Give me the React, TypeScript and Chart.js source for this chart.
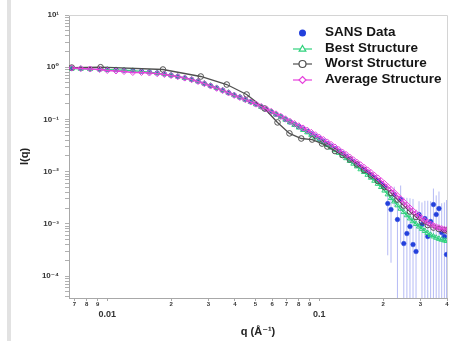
import React, { useEffect, useRef } from 'react';
import { Chart, registerables } from 'chart.js';

Chart.register(...registerables);

// ---- data ----
const qValues = [
  0.0068, 0.0075, 0.0083, 0.0092, 0.0100, 0.0110, 0.0120, 0.0132, 0.0145, 0.0158,
  0.0172, 0.0186, 0.0200, 0.0215, 0.0232, 0.0250, 0.0268, 0.0287, 0.0307, 0.0328,
  0.0350, 0.0373, 0.0397, 0.0422, 0.0448, 0.0475, 0.0503, 0.0532, 0.0562, 0.0593,
  0.0625, 0.0658, 0.0692, 0.0727, 0.0763, 0.0800, 0.0838, 0.0877, 0.0917, 0.0958,
  0.1000, 0.1045, 0.1090, 0.1137, 0.1185, 0.1235, 0.1286, 0.1338, 0.1392, 0.1448,
  0.1505, 0.1564, 0.1625, 0.1688, 0.1752, 0.1818, 0.1886, 0.1956, 0.2028, 0.2102,
  0.2178, 0.2256, 0.2336, 0.2418, 0.2502, 0.2588, 0.2676, 0.2766, 0.2858, 0.2952,
  0.3048, 0.3146, 0.3246, 0.3348, 0.3452, 0.3558, 0.3666, 0.3776, 0.3888, 0.3980,
];

const sansI = [
  0.944, 0.936, 0.924, 0.912, 0.904, 0.892, 0.876, 0.857, 0.835, 0.809,
  0.774, 0.741, 0.703, 0.663, 0.621, 0.581, 0.537, 0.487, 0.442, 0.400,
  0.361, 0.325, 0.292, 0.266, 0.240, 0.218, 0.196, 0.175, 0.157, 0.140,
  0.125, 0.113, 0.100, 0.0892, 0.0799, 0.0725, 0.0655, 0.0592, 0.0532, 0.0479,
  0.0431, 0.0386, 0.0345, 0.0309, 0.0277, 0.0247, 0.0222, 0.0197, 0.0175, 0.0156,
  0.0139, 0.0124, 0.0111, 0.00983, 0.00872, 0.00771, 0.00675, 0.00592, 0.00518, 0.00245,
  0.00188, 0.00364, 0.00121, 0.00292, 0.000419, 0.000652, 0.000888, 0.000401, 0.000295, 0.00151,
  0.000970, 0.00126, 0.000571, 0.00111, 0.00234, 0.00151, 0.00196, 0.000681, 0.000571, 0.000258,
];

const sansErr = [
  0.028, 0.028, 0.028, 0.027, 0.027, 0.027, 0.026, 0.026, 0.025, 0.024,
  0.023, 0.022, 0.021, 0.020, 0.019, 0.017, 0.016, 0.015, 0.013, 0.012,
  0.011, 0.010, 0.009, 0.008, 0.0072, 0.0065, 0.0059, 0.0053, 0.0047, 0.0042,
  0.0038, 0.0034, 0.0030, 0.0027, 0.0024, 0.0022, 0.0020, 0.0018, 0.0016, 0.0015,
  0.0013, 0.0012, 0.0011, 0.0010, 0.0009, 0.0008, 0.0007, 0.0007, 0.0006, 0.0006,
  0.0005, 0.0005, 0.0005, 0.0005, 0.0005, 0.0006, 0.0006, 0.0007, 0.0008, 0.0022,
  0.0017, 0.0015, 0.0018, 0.0025, 0.0028, 0.0025, 0.0022, 0.0026, 0.0016, 0.0012,
  0.0016, 0.0015, 0.0022, 0.0016, 0.0024, 0.0020, 0.0022, 0.0018, 0.0020, 0.0026,
];

const bestI = [
  0.940, 0.932, 0.921, 0.910, 0.900, 0.889, 0.874, 0.855, 0.833, 0.808,
  0.773, 0.740, 0.703, 0.664, 0.622, 0.582, 0.538, 0.489, 0.444, 0.402,
  0.362, 0.326, 0.293, 0.266, 0.240, 0.217, 0.195, 0.174, 0.156, 0.139,
  0.124, 0.111, 0.0990, 0.0880, 0.0785, 0.0700, 0.0629, 0.0566, 0.0507, 0.0454,
  0.0407, 0.0363, 0.0323, 0.0288, 0.0257, 0.0228, 0.0203, 0.0181, 0.0160, 0.0142,
  0.0126, 0.0111, 0.00983, 0.00869, 0.00764, 0.00669, 0.00584, 0.00507, 0.00434, 0.00367,
  0.00312, 0.00268, 0.00226, 0.00195, 0.00168, 0.00146, 0.00127, 0.00112, 0.000991, 0.000888,
  0.000802, 0.000728, 0.000666, 0.000616, 0.000574, 0.000542, 0.000516, 0.000496, 0.000481, 0.000470,
];

const avgI = [
  0.965, 0.944, 0.924, 0.904, 0.865, 0.846, 0.827, 0.792, 0.792, 0.774,
  0.751, 0.725, 0.693, 0.658, 0.618, 0.576, 0.532, 0.483, 0.436, 0.394,
  0.358, 0.322, 0.289, 0.263, 0.238, 0.216, 0.196, 0.177, 0.159, 0.143,
  0.128, 0.115, 0.103, 0.0924, 0.0835, 0.0757, 0.0687, 0.0624, 0.0566, 0.0509,
  0.0458, 0.0412, 0.0371, 0.0332, 0.0297, 0.0265, 0.0237, 0.0213, 0.0190, 0.0169,
  0.0151, 0.0136, 0.0121, 0.0108, 0.00961, 0.00853, 0.00757, 0.00669, 0.00592, 0.00518,
  0.00454, 0.00398, 0.00345, 0.00301, 0.00263, 0.00229, 0.00201, 0.00177, 0.00158, 0.00141,
  0.00127, 0.00116, 0.00107, 0.000991, 0.000928, 0.000880, 0.000842, 0.000813, 0.000788, 0.000771,
];

const worstQ = [
  0.0068, 0.0093, 0.0183, 0.0276, 0.0366, 0.0454, 0.0552, 0.0635, 0.0723, 0.0822,
  0.0925, 0.1030, 0.1090, 0.1185, 0.1286, 0.1392, 0.1505, 0.1625, 0.1752, 0.1886,
  0.2028, 0.2178, 0.2336, 0.2502, 0.2676, 0.2858, 0.3048, 0.3246, 0.3452, 0.3666,
  0.3888, 0.3980,
];
const worstI = [
  0.985, 1.00, 0.904, 0.664, 0.466, 0.300, 0.162, 0.0876, 0.0540, 0.0431,
  0.0412, 0.0345, 0.0303, 0.0248, 0.0208, 0.0171, 0.0137, 0.0107, 0.00842, 0.00661,
  0.00507, 0.00389, 0.00292, 0.00224, 0.00172, 0.00135, 0.00111, 0.000948, 0.000849, 0.000795,
  0.000761, 0.000744,
];

const legendLabels = ['SANS Data', 'Best Structure', 'Worst Structure', 'Average Structure'];
const xTickValues = [0.007, 0.008, 0.009, 0.01, 0.02, 0.03, 0.04, 0.05, 0.06, 0.07, 0.08, 0.09, 0.1, 0.2, 0.3, 0.4];
const xMajorTicks = [0.01, 0.1];
const xMajorLabels = ['0.01', '0.1'];
const xMinorLabels = ['7', '8', '9', '', '2', '3', '4', '5', '6', '7', '8', '9', '', '2', '3', '4'];
const yDecades = [0.0001, 0.001, 0.01, 0.1, 1, 10];
const yMinorFactors = [2, 3, 4, 5, 6, 7, 8, 9];
const yDecadeLabels = ['10⁻⁴', '10⁻³', '10⁻²', '10⁻¹', '10⁰', '10¹'];
const xTitle = 'q (Å⁻¹)';
const yTitle = 'I(q)';

// ---- styles ----
const sansColor = '#2340dc';
const bestColor = '#2fd27c';
const worstColor = '#505050';
const avgColor = '#e640dc';
const errColor = 'rgba(110,120,235,0.5)';
const FONT = "'Liberation Sans', Arial, 'DejaVu Sans', sans-serif";

const X_MIN = 0.0066;
const X_MAX = 0.4;
const Y_MIN = 3.8e-5;
const Y_MAX = 10;

const near = (a: number, b: number) => Math.abs(a - b) / b < 1e-6;

const errorBarPlugin = {
  id: 'errorBars',
  beforeDatasetsDraw(chart: any) {
    const { ctx, chartArea, scales } = chart;
    const xs = scales.x, ys = scales.y;
    ctx.save();
    ctx.beginPath();
    ctx.rect(chartArea.left, chartArea.top, chartArea.right - chartArea.left, chartArea.bottom - chartArea.top);
    ctx.clip();
    ctx.strokeStyle = errColor;
    ctx.lineWidth = 1;
    for (let i = 0; i < qValues.length; i++) {
      const x = xs.getPixelForValue(qValues[i]);
      const hi = sansI[i] + sansErr[i];
      const lo = sansI[i] - sansErr[i];
      const yTop = ys.getPixelForValue(hi);
      const yBot = lo > 0 ? ys.getPixelForValue(lo) : chartArea.bottom;
      ctx.beginPath();
      ctx.moveTo(x, yTop);
      ctx.lineTo(x, Math.min(yBot, chartArea.bottom));
      ctx.stroke();
    }
    ctx.restore();
  },
};

function drawMarker(ctx: CanvasRenderingContext2D, style: string, x: number, y: number, r: number) {
  ctx.beginPath();
  if (style === 'circle') {
    ctx.arc(x, y, r, 0, Math.PI * 2);
  } else if (style === 'triangle') {
    ctx.moveTo(x, y - r);
    ctx.lineTo(x + r * 0.95, y + r * 0.6);
    ctx.lineTo(x - r * 0.95, y + r * 0.6);
    ctx.closePath();
  } else if (style === 'rectRot') {
    ctx.moveTo(x, y - r);
    ctx.lineTo(x + r, y);
    ctx.lineTo(x, y + r);
    ctx.lineTo(x - r, y);
    ctx.closePath();
  }
}

const framePlugin = {
  id: 'frameLegend',
  afterDraw(chart: any) {
    const { ctx, chartArea } = chart;
    ctx.save();
    // top and right frame
    ctx.strokeStyle = '#d4d4d4';
    ctx.lineWidth = 1;
    ctx.beginPath();
    ctx.moveTo(chartArea.left, chartArea.top + 0.5);
    ctx.lineTo(chartArea.right + 0.5, chartArea.top + 0.5);
    ctx.lineTo(chartArea.right + 0.5, chartArea.bottom);
    ctx.stroke();

    // legend
    const lx0 = chartArea.right - 154;
    const lx1 = chartArea.right - 135;
    const mx = (lx0 + lx1) / 2;
    const tx = chartArea.right - 122;
    const rows = [chartArea.top + 18, chartArea.top + 34, chartArea.top + 49, chartArea.top + 65];
    const styles = [
      { color: sansColor, marker: 'circle', line: false, fill: true },
      { color: bestColor, marker: 'triangle', line: true, fill: false },
      { color: worstColor, marker: 'circle', line: true, fill: false },
      { color: avgColor, marker: 'rectRot', line: true, fill: false },
    ];
    for (let i = 0; i < legendLabels.length; i++) {
      const y = rows[i];
      const s = styles[i];
      ctx.strokeStyle = s.color;
      ctx.fillStyle = s.color;
      ctx.lineWidth = 1.2;
      if (s.line) {
        ctx.beginPath();
        ctx.moveTo(lx0, y);
        ctx.lineTo(lx1, y);
        ctx.stroke();
      }
      drawMarker(ctx, s.marker, mx, y, 3.5);
      if (s.fill) ctx.fill();
      else {
        ctx.fillStyle = '#fff';
        ctx.fill();
        ctx.stroke();
      }
      ctx.save();
      ctx.translate(tx, y);
      ctx.scale(1.08, 1);
      ctx.font = `bold 12.5px ${FONT}`;
      ctx.textBaseline = 'middle';
      ctx.textAlign = 'left';
      ctx.fillStyle = '#151515';
      ctx.fillText(legendLabels[i], 0, 0);
      ctx.restore();
    }
    ctx.restore();
  },
};

export default function App() {
  const ref = useRef<HTMLCanvasElement>(null);

  useEffect(() => {
    document.body.style.margin = '0';
    const canvas = ref.current;
    if (!canvas) return;

    const yTicks: number[] = [];
    yDecades.forEach((d) => {
      yTicks.push(d);
      yMinorFactors.forEach((f) => {
        const v = d * f;
        if (v <= Y_MAX) yTicks.push(v);
      });
    });
    yMinorFactors.forEach((f) => {
      const v = (yDecades[0] / 10) * f;
      if (v >= Y_MIN) yTicks.push(v);
    });
    yTicks.sort((a, b) => a - b);

    const chart = new Chart(canvas, {
      type: 'line',
      data: {
        datasets: [
          {
            label: legendLabels[0],
            data: qValues.map((q, i) => ({ x: q, y: sansI[i] })),
            showLine: false,
            pointStyle: 'circle',
            pointRadius: 2.3,
            pointBackgroundColor: sansColor,
            pointBorderColor: sansColor,
            pointBorderWidth: 0.5,
            borderColor: sansColor,
            backgroundColor: sansColor,
            order: 4,
          },
          {
            label: legendLabels[1],
            data: qValues.map((q, i) => ({ x: q, y: bestI[i] })),
            borderColor: bestColor,
            backgroundColor: bestColor,
            borderWidth: 1.3,
            pointStyle: 'triangle',
            pointRadius: 3,
            pointBorderColor: bestColor,
            pointBackgroundColor: 'rgba(255,255,255,0)',
            pointBorderWidth: 1,
            order: 3,
          },
          {
            label: legendLabels[2],
            data: worstQ.map((q, i) => ({ x: q, y: worstI[i] })),
            borderColor: worstColor,
            backgroundColor: worstColor,
            borderWidth: 1.3,
            pointStyle: 'circle',
            pointRadius: 2.8,
            pointBorderColor: worstColor,
            pointBackgroundColor: 'rgba(255,255,255,0)',
            pointBorderWidth: 1,
            order: 2,
          },
          {
            label: legendLabels[3],
            data: qValues.map((q, i) => ({ x: q, y: avgI[i] })),
            borderColor: avgColor,
            backgroundColor: avgColor,
            borderWidth: 1.3,
            pointStyle: 'rectRot',
            pointRadius: 3,
            pointBorderColor: avgColor,
            pointBackgroundColor: 'rgba(255,255,255,0)',
            pointBorderWidth: 1,
            order: 1,
          },
        ],
      },
      options: {
        responsive: false,
        animation: false,
        events: [],
        layout: { padding: { top: 15, right: 6, left: 0, bottom: 0 } },
        elements: { line: { tension: 0 } },
        plugins: {
          legend: { display: false },
          tooltip: { enabled: false },
        },
        scales: {
          x: {
            type: 'logarithmic',
            min: X_MIN,
            max: X_MAX,
            afterBuildTicks: (scale: any) => {
              scale.ticks = xTickValues.map((v) => ({ value: v }));
            },
            afterFit: (scale: any) => {
              scale.height = 43;
              scale.paddingLeft = 0;
              scale.paddingRight = 0;
            },
            border: { display: true, color: '#a8a8a8', width: 1 },
            grid: { drawOnChartArea: false, drawTicks: true, tickLength: 3, color: '#a8a8a8' },
            ticks: {
              autoSkip: false,
              maxRotation: 0,
              minRotation: 0,
              padding: 0,
              color: '#333',
              font: (c: any) => {
                const v = c.tick ? c.tick.value : 0;
                const major = xMajorTicks.some((m) => near(v, m));
                return major
                  ? { family: FONT, size: 9, weight: 'bold', lineHeight: 1.0 }
                  : { family: FONT, size: 6, weight: 'bold', lineHeight: 1.2 };
              },
              callback: (value: any) => {
                const v = Number(value);
                const mi = xMajorTicks.findIndex((m) => near(v, m));
                if (mi >= 0) return ['', xMajorLabels[mi]];
                const ti = xTickValues.findIndex((t) => near(v, t));
                return ti >= 0 ? xMinorLabels[ti] : '';
              },
            },
            title: {
              display: true,
              text: xTitle,
              color: '#222',
              font: { family: FONT, size: 11, weight: 'bold', lineHeight: 1.2 },
              padding: { top: 0, bottom: 2 },
            },
          },
          y: {
            type: 'logarithmic',
            min: Y_MIN,
            max: Y_MAX,
            afterBuildTicks: (scale: any) => {
              scale.ticks = yTicks.map((v) => ({ value: v }));
            },
            afterFit: (scale: any) => {
              scale.width = 69;
              scale.paddingTop = 0;
              scale.paddingBottom = 0;
            },
            border: { display: true, color: '#a8a8a8', width: 1 },
            grid: { drawOnChartArea: false, drawTicks: true, tickLength: 4, color: '#b0b0b0' },
            ticks: {
              autoSkip: false,
              padding: 6,
              color: '#333',
              font: { family: FONT, size: 8, weight: 'bold' },
              callback: (value: any) => {
                const v = Number(value);
                const di = yDecades.findIndex((d) => near(v, d));
                return di >= 0 ? yDecadeLabels[di] : '';
              },
            },
            title: {
              display: true,
              text: yTitle,
              color: '#222',
              font: { family: FONT, size: 11, weight: 'bold', lineHeight: 1.2 },
              padding: { top: 18, bottom: 0 },
            },
          },
        },
      } as any,
      plugins: [errorBarPlugin, framePlugin],
    });

    return () => chart.destroy();
  }, []);

  return (
    <div style={{ position: 'relative', width: 453, height: 341, background: '#fff' }}>
      <canvas ref={ref} width={453} height={341} style={{ position: 'absolute', left: 0, top: 0 }} />
      <div style={{ position: 'absolute', left: 7, top: 0, width: 4, height: 341, background: '#e2e2e2' }} />
    </div>
  );
}
